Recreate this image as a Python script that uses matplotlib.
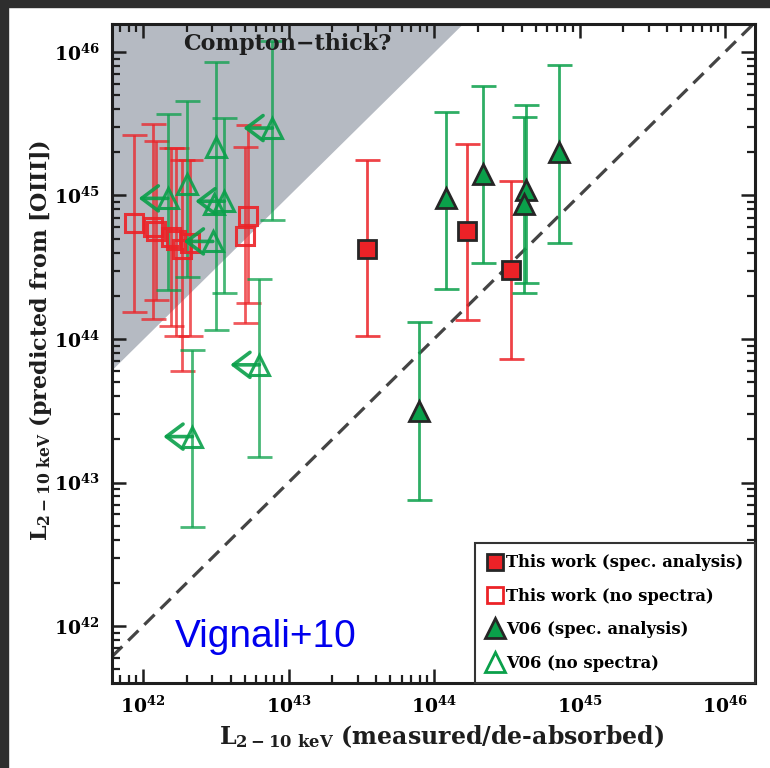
import numpy as np
import matplotlib
matplotlib.use("Agg")
import matplotlib.pyplot as plt
from matplotlib.lines import Line2D
from matplotlib.patches import Rectangle
from matplotlib.ticker import LogLocator, FuncFormatter, NullFormatter

plt.rcParams["mathtext.fontset"] = "custom"
plt.rcParams["mathtext.rm"] = "DejaVu Serif:bold"
plt.rcParams["mathtext.it"] = "DejaVu Serif:bold"
plt.rcParams["mathtext.bf"] = "DejaVu Serif:bold"
plt.rcParams["font.family"] = "DejaVu Serif"
plt.rcParams["font.weight"] = "bold"

# ---- data: log10 of L(2-10 keV) measured (x) and predicted from [OIII] (y) ----
# This work, spectral analysis
tw_spec_x = [43.54, 44.23, 44.53]
tw_spec_y = [44.63, 44.75, 44.48]
tw_spec_lo = [44.02, 44.13, 43.86]
tw_spec_hi = [45.25, 45.36, 45.10]

# This work, no spectra
tw_nospec_x = [41.94, 42.07, 42.09, 42.19, 42.23, 42.32, 42.27, 42.70, 42.72]
tw_nospec_y = [44.81, 44.78, 44.75, 44.71, 44.69, 44.67, 44.63, 44.72, 44.86]
tw_nospec_lo = [44.19, 44.14, 44.27, 44.09, 44.02, 44.02, 43.78, 44.11, 44.25]
tw_nospec_hi = [45.42, 45.50, 45.38, 45.33, 45.33, 45.25, 45.25, 45.34, 45.49]

# V06, spectral analysis
v06_spec_x = [44.08, 44.34, 44.63, 44.62, 44.86, 43.90]
v06_spec_y = [44.98, 45.15, 45.04, 44.94, 45.30, 43.50]
v06_spec_lo = [44.35, 44.53, 44.39, 44.32, 44.67, 42.88]
v06_spec_hi = [45.58, 45.76, 45.63, 45.55, 45.91, 44.12]

# V06, no spectra (x values are upper limits where flagged)
v06_nospec_x = [42.17, 42.30, 42.50, 42.56, 42.49, 42.48, 42.89, 42.80, 42.34]
v06_nospec_y = [44.98, 45.08, 45.34, 44.96, 44.94, 44.68, 45.47, 43.82, 43.32]
v06_nospec_lo = [44.34, 44.43, 44.06, 44.32, np.nan, np.nan, 44.83, 43.18, 42.69]
v06_nospec_hi = [45.57, 45.66, 45.93, 45.54, np.nan, np.nan, 46.08, 44.42, 43.92]
v06_nospec_ulim = [True, False, False, True, False, True, True, True, True]

x_range = (41.787, 46.206)
y_range = (41.603, 46.195)

RED = "#ec2227"
GREEN = "#0aa04a"
EDGE = "#262626"
SHADE = "#b5bac2"
INK = "#1e1e1e"

fig = plt.figure(figsize=(7.7, 7.68), dpi=100)
ax = fig.add_axes([112 / 770, 1 - 683 / 768, (755 - 112) / 770, (683 - 24) / 768])

# dark page edges
fig.patches.append(Rectangle((0, 0), 8 / 770, 1, transform=fig.transFigure,
                             color="#2e2e2e", zorder=0))
fig.patches.append(Rectangle((0, 1 - 7 / 768), 1, 7 / 768, transform=fig.transFigure,
                             color="#2e2e2e", zorder=0))

ax.set_xscale("log")
ax.set_yscale("log")
ax.set_xlim(10 ** x_range[0], 10 ** x_range[1])
ax.set_ylim(10 ** y_range[0], 10 ** y_range[1])

# Compton-thick zone: L_pred > 100 x L_meas
xs = np.array([10 ** (x_range[0] - 1), 10 ** (y_range[1] - 2 + 0.5)])
ax.fill_between(xs, xs * 100, 10 ** (y_range[1] + 1), color=SHADE, lw=0, zorder=0)

# one-to-one relation
line = np.array([1e41, 1e47])
ax.plot(line, line, color="#444444", lw=2.3, dashes=(4.5, 2.6), zorder=1)


def draw_group(xl, yl, lo, hi, color, marker, filled, ms, alpha):
    x = 10 ** np.asarray(xl)
    y = 10 ** np.asarray(yl)
    lo = np.asarray(lo, float)
    hi = np.asarray(hi, float)
    ok = ~np.isnan(lo)
    yerr = np.vstack([y[ok] - 10 ** lo[ok], 10 ** hi[ok] - y[ok]])
    ax.errorbar(x[ok], y[ok], yerr=yerr, fmt="none", ecolor=color, elinewidth=2.0,
                capsize=9, capthick=2.0, alpha=alpha, zorder=2)
    if filled:
        ax.plot(x, y, ls="none", marker=marker, ms=ms, mfc=color, mec=EDGE,
                mew=2.0, zorder=4)
    else:
        ax.plot(x, y, ls="none", marker=marker, ms=ms, mfc="none", mec=color,
                mew=2.2, alpha=0.9, zorder=3)


draw_group(tw_nospec_x, tw_nospec_y, tw_nospec_lo, tw_nospec_hi, RED, "s", False, 13.5, 0.75)
draw_group(v06_nospec_x, v06_nospec_y, v06_nospec_lo, v06_nospec_hi, GREEN, "^", False, 15, 0.75)
draw_group(tw_spec_x, tw_spec_y, tw_spec_lo, tw_spec_hi, RED, "s", True, 13.5, 0.85)
draw_group(v06_spec_x, v06_spec_y, v06_spec_lo, v06_spec_hi, GREEN, "^", True, 15, 0.85)

# upper-limit arrows on measured luminosity
for xv, yv, ul in zip(v06_nospec_x, v06_nospec_y, v06_nospec_ulim):
    if ul:
        ax.annotate("", xy=(10 ** (xv - 0.2), 10 ** yv), xytext=(10 ** xv, 10 ** yv),
                    arrowprops=dict(arrowstyle="->,head_length=0.6,head_width=0.45",
                                    color=GREEN, lw=2.6, alpha=0.9,
                                    shrinkA=0, shrinkB=0, mutation_scale=20),
                    zorder=3)

# axes styling
for s in ax.spines.values():
    s.set_linewidth(2.2)
    s.set_color(INK)
ax.tick_params(which="both", direction="in", top=True, right=True, color=INK)
ax.tick_params(which="major", length=10, width=1.8, labelsize=13.5, pad=9)
ax.tick_params(which="minor", length=6, width=1.6)
for axis in (ax.xaxis, ax.yaxis):
    axis.set_major_locator(LogLocator(base=10, numticks=10))
    axis.set_minor_locator(LogLocator(base=10, subs=np.arange(2, 10), numticks=10))
    axis.set_minor_formatter(NullFormatter())
    axis.set_major_formatter(FuncFormatter(lambda v, p: r"$10^{%d}$" % round(np.log10(v))))

fig.text(441 / 770, 1 - 737 / 768,
         r"$\mathrm{L}_{\mathrm{2-10\ keV}}$ (measured/de-absorbed)",
         ha="center", va="center", fontsize=17, fontweight="bold", color=INK)
fig.text(41 / 770, 1 - 340 / 768,
         r"$\mathrm{L}_{\mathrm{2-10\ keV}}$ (predicted from [OIII])",
         ha="center", va="center", rotation=90, fontsize=16, fontweight="bold",
         color=INK)
fig.text(287 / 770, 1 - 44 / 768, "Compton\u2212thick?", ha="center", va="center",
         fontsize=16, fontweight="bold", color=INK, zorder=5)
fig.text(175 / 770, 1 - 647 / 768, "Vignali+10", ha="left", va="baseline",
         fontsize=28, family="Liberation Sans", fontweight="normal", color="#0000ee")

handles = [
    Line2D([], [], ls="none", marker="s", ms=12, mfc=RED, mec=EDGE, mew=2.0),
    Line2D([], [], ls="none", marker="s", ms=12, mfc="none", mec=RED, mew=2.0),
    Line2D([], [], ls="none", marker="^", ms=14, mfc=GREEN, mec=EDGE, mew=2.0),
    Line2D([], [], ls="none", marker="^", ms=14, mfc="none", mec=GREEN, mew=2.0),
]
labels = ["This work (spec. analysis)", "This work (no spectra)",
          "V06 (spec. analysis)", "V06 (no spectra)"]
leg = ax.legend(handles, labels, loc="lower right", bbox_to_anchor=(1, 0),
                borderaxespad=0, fancybox=False, framealpha=1, edgecolor="#333333",
                prop=dict(family="DejaVu Serif", weight="bold", size=11.8),
                handlelength=1.0, handletextpad=0.2, labelspacing=1.0, borderpad=0.7)
leg.get_frame().set_linewidth(1.5)

fig.savefig("out.png", dpi=100)
